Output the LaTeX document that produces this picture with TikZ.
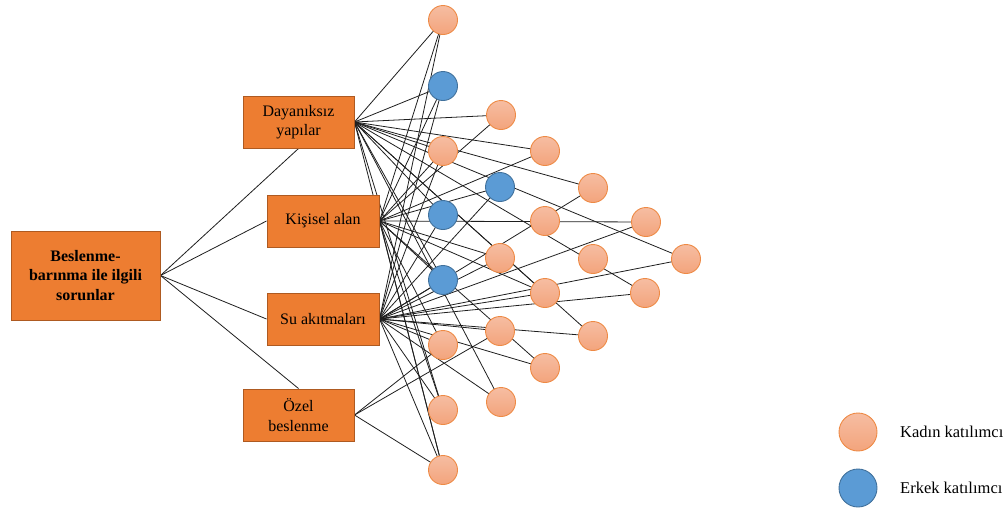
\documentclass[tikz,border=0pt]{standalone}
\usepackage{fontspec}
\setmainfont{Liberation Serif}
\definecolor{boxFill}{HTML}{ED7D31}
\definecolor{boxEdge}{HTML}{AE5A21}
\definecolor{femTop}{HTML}{F6BDA2}
\definecolor{femBot}{HTML}{F3A47C}
\definecolor{femEdge}{HTML}{EE8A45}
\definecolor{malFill}{HTML}{5B9BD5}
\definecolor{malEdge}{HTML}{41719C}
\definecolor{lineCol}{HTML}{1E1E1E}
\pgfdeclarelayer{edges}
\pgfsetlayers{edges,main}
\begin{document}
\begin{tikzpicture}[x=1pt,y=-1pt,
  box/.style={draw=boxEdge, line width=1pt, fill=boxFill, align=center, inner sep=0pt,
    font=\fontsize{16}{19.5}\selectfont},
  fem/.style={circle, minimum size=29pt, inner sep=0pt, draw=femEdge, line width=0.9pt,
    top color=femTop, bottom color=femBot},
  mal/.style={circle, minimum size=29pt, inner sep=0pt, draw=malEdge, line width=0.9pt,
    fill=malFill},
  conn/.style={draw=lineCol, line width=0.8pt},
  legtext/.style={anchor=west, inner sep=0pt, font=\fontsize{16.5}{19}\selectfont}]
\useasboundingbox (0,0) rectangle (1008,512);

% boxes
\node[box, minimum width=149pt, minimum height=89pt,
  font=\fontsize{16}{19.5}\selectfont\bfseries] (M) at (85.5,275.5)
  {Beslenme-\\barınma ile ilgili\\sorunlar};
\node[box, minimum width=111pt, minimum height=52pt] (D) at (298.5,122) {Dayanıksız\\yapılar};
\node[box, minimum width=112pt, minimum height=52pt] (K) at (323,221) {Kişisel alan};
\node[box, minimum width=112pt, minimum height=52pt] (S) at (323,319) {Su akıtmaları};
\node[box, minimum width=111pt, minimum height=52pt] (O) at (298.5,415) {Özel\\beslenme};

% participants
\node[fem] (c1) at (443,20) {};
\node[mal] (c2) at (443,86) {};
\node[fem] (c3) at (443,151) {};
\node[mal] (c4) at (443,215) {};
\node[mal] (c5) at (443,280) {};
\node[fem] (c6) at (443,345) {};
\node[fem] (c7) at (443,410) {};
\node[fem] (c8) at (443,470) {};
\node[fem] (d1) at (501,115) {};
\node[mal] (d2) at (500,187) {};
\node[fem] (d3) at (500,258) {};
\node[fem] (d4) at (500,331) {};
\node[fem] (d5) at (501,402) {};
\node[fem] (e1) at (545,151) {};
\node[fem] (e2) at (545,221) {};
\node[fem] (e3) at (545,293) {};
\node[fem] (e4) at (545,368) {};
\node[fem] (f1) at (593,188) {};
\node[fem] (f2) at (593,259) {};
\node[fem] (f3) at (593,336) {};
\node[fem] (g1) at (646,222) {};
\node[fem] (g2) at (645,293) {};
\node[fem] (h1) at (686,259) {};

\begin{pgfonlayer}{edges}
% main to categories
\draw[conn] (M.east) -- (D.south);
\draw[conn] (M.east) -- (K.west);
\draw[conn] (M.east) -- (S.west);
\draw[conn] (M.east) -- (O.north);
% categories to participants
\foreach \t in {c1,c2,c3,c4,c5,d1,e1,f1,h1,g2,e3,f3,d5,c7,c8}
  \draw[conn] (D.east) -- (\t.center);
\foreach \t in {c1,c2,c3,c5,c6,c7,c8,d1,d2,d3,e1,g1,e3,e4}
  \draw[conn] (K.east) -- (\t.center);
\foreach \t in {c1,c2,c3,c4,c5,c6,c7,c8,d2,d3,d4,d5,f1,g1,h1,g2,f3,e4,e3}
  \draw[conn] (S.east) -- (\t.center);
\foreach \t in {c6,d4,c8}
  \draw[conn] (O.east) -- (\t.center);
\end{pgfonlayer}

% legend
\node[fem, minimum size=38pt] (LF) at (858,432) {};
\node[legtext] (LFt) at (900,432) {Kadın katılımcı};
\node[mal, minimum size=38pt] (LM) at (858,488) {};
\node[legtext] (LMt) at (900,488) {Erkek katılımcı};
\end{tikzpicture}
\end{document}
